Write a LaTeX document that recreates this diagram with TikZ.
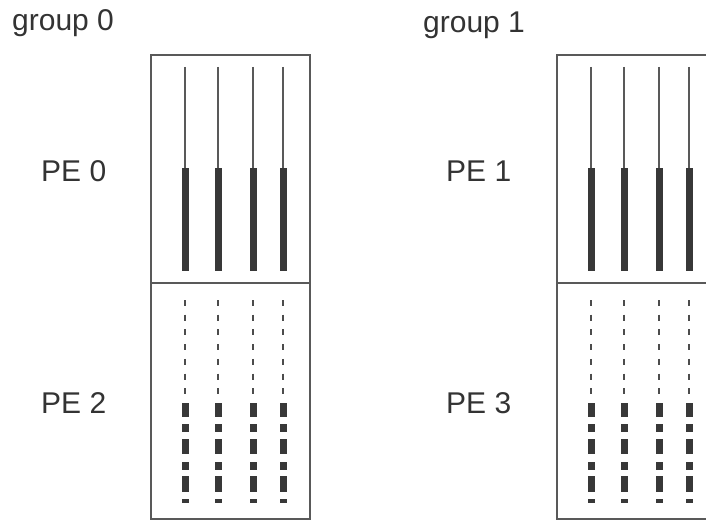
\documentclass[tikz,border=0pt]{standalone}
\usepackage{fontspec}
\setmainfont{Liberation Sans}
\begin{document}
\begin{tikzpicture}[x=1pt,y=-1pt,
  lbl/.style={text=black!80, font=\fontsize{30}{35}\selectfont, inner sep=0pt, anchor=base west},
  frame/.style={draw=black!65, line width=1.3pt},
  thinline/.style={draw=black!65, line width=1.5pt},
  thindash/.style={draw=black!70, line width=1.8pt, dash pattern=on 6pt off 8.7pt},
  bar/.style={fill=black!78},
]
\useasboundingbox (0,0) rectangle (706,521);
\clip (0,0) rectangle (706,521);
\fill[white] (0,0) rectangle (706,521);

\node[lbl] (g0) at (12,31) {group 0};
\node[lbl] (g1) at (423,33) {group 1};
\node[lbl] (pe0) at (41,182) {PE 0};
\node[lbl] (pe2) at (41,413) {PE 2};
\node[lbl] (pe1) at (446,182) {PE 1};
\node[lbl] (pe3) at (446,413) {PE 3};

\foreach \X/\n in {151/a,557/b}{
  \draw[frame] (\X,55) rectangle (\X+159,519);
  \draw[frame] (\X,283) -- (\X+159,283);
  \foreach \d in {34,67,102,132}{
    \pgfmathsetmacro{\xx}{\X+\d}
    \draw[thinline] (\xx,67) -- (\xx,169);
    \fill[bar] (\xx-3.5,168) rectangle (\xx+3.5,271);
    \draw[thindash] (\xx,300) -- (\xx,397);
    \fill[bar] (\xx-3.5,403) rectangle (\xx+3.5,417);
    \fill[bar] (\xx-3.5,424) rectangle (\xx+3.5,432);
    \fill[bar] (\xx-3.5,439) rectangle (\xx+3.5,454);
    \fill[bar] (\xx-3.5,462) rectangle (\xx+3.5,469.5);
    \fill[bar] (\xx-3.5,476) rectangle (\xx+3.5,492);
    \fill[bar] (\xx-3.5,498.5) rectangle (\xx+3.5,503);
  }
}
\end{tikzpicture}
\end{document}
